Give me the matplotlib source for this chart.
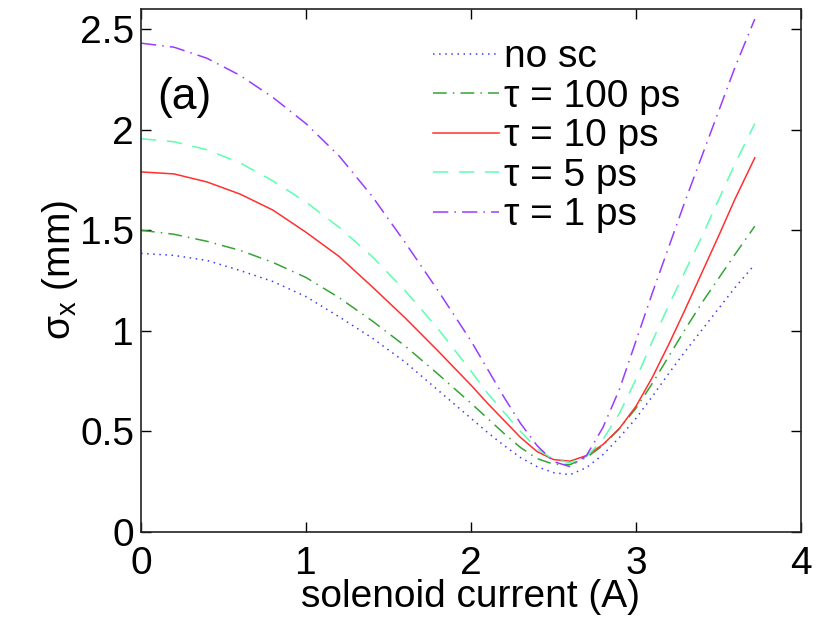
import numpy as np
import matplotlib
matplotlib.use("Agg")
import matplotlib.pyplot as plt

plt.rcParams['font.family'] = ['Liberation Sans', 'DejaVu Sans']
plt.rcParams['mathtext.fontset'] = 'custom'
plt.rcParams['mathtext.rm'] = 'Liberation Sans'

# solenoid current (A)
current = [0.0, 0.2, 0.4, 0.6, 0.8, 1.0, 1.2, 1.4, 1.6, 1.8, 2.0, 2.1, 2.2, 2.3,
           2.4, 2.5, 2.6, 2.7, 2.8, 2.9, 3.0, 3.1, 3.2, 3.3, 3.4, 3.5, 3.6, 3.72]

# sigma_x (mm) for each case
no_sc = [1.385, 1.375, 1.35, 1.30, 1.245, 1.17, 1.07, 0.965, 0.845, 0.705, 0.565, 0.495,
         0.43, 0.37, 0.325, 0.295, 0.285, 0.32, 0.385, 0.47, 0.565, 0.675, 0.79, 0.90,
         1.005, 1.11, 1.215, 1.33]
tau_100 = [1.50, 1.48, 1.445, 1.40, 1.34, 1.265, 1.165, 1.05, 0.925, 0.785, 0.64, 0.565,
           0.49, 0.42, 0.365, 0.337, 0.335, 0.37, 0.43, 0.515, 0.615, 0.74, 0.875, 1.01,
           1.14, 1.26, 1.38, 1.52]
tau_10 = [1.79, 1.78, 1.74, 1.68, 1.60, 1.49, 1.37, 1.22, 1.065, 0.90, 0.73, 0.64,
          0.555, 0.47, 0.40, 0.36, 0.352, 0.38, 0.435, 0.515, 0.625, 0.77, 0.935, 1.11,
          1.29, 1.47, 1.655, 1.86]
tau_5 = [1.955, 1.94, 1.90, 1.835, 1.745, 1.64, 1.515, 1.37, 1.20, 1.01, 0.80, 0.69,
         0.595, 0.50, 0.415, 0.36, 0.345, 0.375, 0.46, 0.59, 0.76, 0.95, 1.13, 1.30,
         1.47, 1.65, 1.83, 2.03]
tau_1 = [2.43, 2.41, 2.355, 2.27, 2.16, 2.03, 1.87, 1.67, 1.44, 1.20, 0.95, 0.81,
         0.67, 0.54, 0.43, 0.35, 0.325, 0.38, 0.52, 0.71, 0.95, 1.19, 1.42, 1.65,
         1.87, 2.09, 2.31, 2.55]

labels = ['no sc', 'τ = 100 ps', 'τ = 10 ps', 'τ = 5 ps', 'τ = 1 ps']

fig = plt.figure(figsize=(8.16, 6.28), dpi=100)
ax = fig.add_axes([0.1728, 0.1529, 0.8088, 0.8328])

ax.plot(current, no_sc, color='#3c3cff', lw=1.1, ls=(0, (1, 3)), label=labels[0])
ax.plot(current, tau_100, color='#36a336', lw=1.1, ls=(0, (9, 4, 1, 4)), label=labels[1])
ax.plot(current, tau_10, color='#ff3030', lw=1.1, ls='-', label=labels[2])
ax.plot(current, tau_5, color='#5cffb0', lw=1.1, ls=(0, (10, 7)), label=labels[3])
ax.plot(current, tau_1, color='#9a3cff', lw=1.1, ls=(0, (10, 4, 1, 4)), label=labels[4])

ax.set_xlim(0, 4)
ax.set_ylim(0, 2.6)
ax.set_xticks([0, 1, 2, 3, 4])
ax.set_yticks([0, 0.5, 1, 1.5, 2, 2.5])
ax.set_yticklabels(['0', '0.5', '1', '1.5', '2', '2.5'])
ax.tick_params(direction='in', length=7, width=1, top=True, right=True,
               labelsize=28, colors='black')
ax.tick_params(axis='x', pad=10)
ax.tick_params(axis='y', pad=5)
for s in ax.spines.values():
    s.set_linewidth(1.2)
    s.set_color('#222222')

ax.set_xlabel('solenoid current (A)', fontsize=28, labelpad=-2)
ax.set_ylabel('σ$_\\mathrm{x}$ (mm)', fontsize=28, labelpad=0)

ax.text(0.024, 0.83, '(a)', transform=ax.transAxes, fontsize=32, va='center')

ax.legend(loc='upper left', bbox_to_anchor=(0.43, 0.957), frameon=False,
          fontsize=28, handlelength=1.7, handletextpad=0.13, labelspacing=0.09,
          borderpad=0.2, borderaxespad=0)

fig.savefig('out.png', dpi=100)
